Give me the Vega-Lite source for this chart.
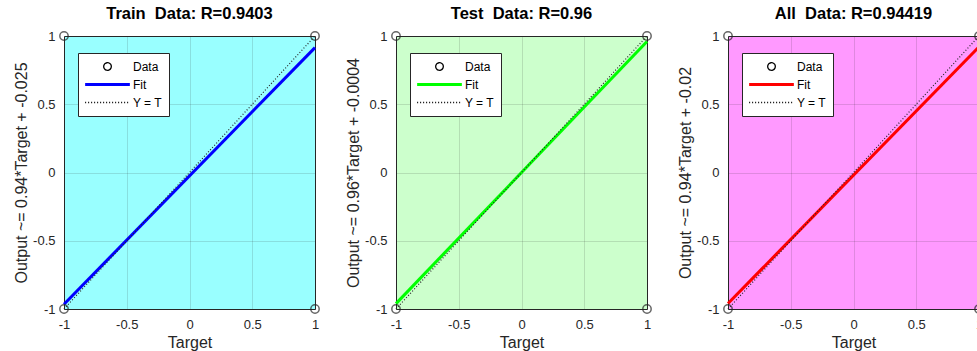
{
  "$schema": "https://vega.github.io/schema/vega-lite/v6.json",
  "padding": {"left": 13, "top": 5, "right": 0, "bottom": 0},
  "background": "white",
  "spacing": 22,
  "datasets": {
    "points": [
      {"panel": "Train", "target": -1, "output": -1},
      {"panel": "Train", "target": -1, "output": 1},
      {"panel": "Train", "target": 1, "output": -1},
      {"panel": "Train", "target": 1, "output": 1},
      {"panel": "Test", "target": -1, "output": -1},
      {"panel": "Test", "target": -1, "output": 1},
      {"panel": "Test", "target": 1, "output": -1},
      {"panel": "Test", "target": 1, "output": 1},
      {"panel": "All", "target": -1, "output": -1},
      {"panel": "All", "target": -1, "output": 1},
      {"panel": "All", "target": 1, "output": -1},
      {"panel": "All", "target": 1, "output": 1}
    ],
    "lines": [
      {"panel": "Train", "series": "Fit", "target": -1, "output": -0.965},
      {"panel": "Train", "series": "Fit", "target": 1, "output": 0.915},
      {"panel": "Train", "series": "Y = T", "target": -1, "output": -1},
      {"panel": "Train", "series": "Y = T", "target": 1, "output": 1},
      {"panel": "Test", "series": "Fit", "target": -1, "output": -0.9604},
      {"panel": "Test", "series": "Fit", "target": 1, "output": 0.9596},
      {"panel": "Test", "series": "Y = T", "target": -1, "output": -1},
      {"panel": "Test", "series": "Y = T", "target": 1, "output": 1},
      {"panel": "All", "series": "Fit", "target": -1, "output": -0.96},
      {"panel": "All", "series": "Fit", "target": 1, "output": 0.92},
      {"panel": "All", "series": "Y = T", "target": -1, "output": -1},
      {"panel": "All", "series": "Y = T", "target": 1, "output": 1}
    ]
  },
  "config": {
    "font": "Liberation Sans",
    "view": {"stroke": "#262626", "strokeWidth": 1},
    "title": {"font": "Liberation Sans", "fontSize": 16.5, "fontWeight": "bold", "color": "#000000", "offset": 6},
    "axis": {
      "domain": false,
      "ticks": false,
      "labelFont": "Liberation Sans",
      "labelFontSize": 13,
      "labelColor": "#262626",
      "labelPadding": 9,
      "labelFlush": false,
      "labelExpr": "datum.value + ''",
      "titleFont": "Liberation Sans",
      "titleFontSize": 16,
      "titleFontWeight": "normal",
      "titleColor": "#262626",
      "titlePadding": 3,
      "grid": true,
      "gridColor": "#262626",
      "gridOpacity": 0.15
    },
    "legend": {
      "orient": "none",
      "legendX": 14,
      "legendY": 17,
      "title": null,
      "padding": 6,
      "rowPadding": 3,
      "clipHeight": 15,
      "labelFont": "Liberation Sans",
      "labelFontSize": 12,
      "labelColor": "#000000",
      "labelOffset": 2,
      "symbolSize": 2000,
      "strokeColor": "#262626",
      "fillColor": "#ffffff",
      "cornerRadius": 0
    }
  },
  "resolve": {
    "scale": {"x": "independent", "y": "independent", "color": "independent"},
    "axis": {"x": "independent", "y": "independent"},
    "legend": {"color": "independent"}
  },
  "hconcat": [
    {
      "title": "Train\u00a0 Data: R=0.9403",
      "width": 251,
      "height": 273,
      "view": {"fill": "#99ffff", "stroke": "#262626"},
      "layer": [
        {
          "data": {"name": "lines"},
          "transform": [{"filter": "datum.panel === 'Train' && datum.series === 'Fit'"}],
          "mark": {"type": "line", "strokeWidth": 3},
          "encoding": {
            "x": {"field": "target", "type": "quantitative", "scale": {"domain": [-1, 1], "nice": false, "zero": false}, "axis": {"values": [-1, -0.5, 0, 0.5, 1]}, "title": "Target"},
            "y": {"field": "output", "type": "quantitative", "scale": {"domain": [-1, 1], "nice": false, "zero": false}, "axis": {"values": [-1, -0.5, 0, 0.5, 1]}, "title": "Output ~= 0.94*Target + -0.025"},
            "color": {
              "field": "series", "type": "nominal",
              "scale": {"domain": ["Data", "Fit", "Y = T"], "range": ["#000000", "#0000ff", "#000000"]},
              "legend": {
                "encode": {
                  "symbols": {
                    "update": {
                      "shape": {"signal": "(datum.value === 'Data' ? 'M-0.17,0A0.17,0.17,0,1,0,0.17,0A0.17,0.17,0,1,0,-0.17,0Z' : 'stroke')"},
                      "strokeWidth": {"signal": "(datum.value === 'Fit' ? 3 : 1.3)"},
                      "strokeDash": {"signal": "(datum.value === 'Y = T' ? [1, 2] : [1, 0])"},
                      "fill": {"value": "transparent"}
                    }
                  }
                }
              }
            }
          }
        },
        {
          "data": {"name": "lines"},
          "transform": [{"filter": "datum.panel === 'Train' && datum.series === 'Y = T'"}],
          "mark": {"type": "line", "strokeWidth": 1.2, "strokeDash": [1, 2], "color": "#262626"},
          "encoding": {
            "x": {"field": "target", "type": "quantitative"},
            "y": {"field": "output", "type": "quantitative"}
          }
        },
        {
          "data": {"name": "points"},
          "transform": [{"filter": "datum.panel === 'Train'"}],
          "mark": {"type": "point", "shape": "circle", "size": 70, "filled": false, "stroke": "#262626", "strokeWidth": 1.5},
          "encoding": {
            "x": {"field": "target", "type": "quantitative"},
            "y": {"field": "output", "type": "quantitative"}
          }
        }
      ]
    },
    {
      "title": "Test\u00a0 Data: R=0.96",
      "width": 251,
      "height": 273,
      "view": {"fill": "#ccffcc", "stroke": "#262626"},
      "layer": [
        {
          "data": {"name": "lines"},
          "transform": [{"filter": "datum.panel === 'Test' && datum.series === 'Fit'"}],
          "mark": {"type": "line", "strokeWidth": 3},
          "encoding": {
            "x": {"field": "target", "type": "quantitative", "scale": {"domain": [-1, 1], "nice": false, "zero": false}, "axis": {"values": [-1, -0.5, 0, 0.5, 1]}, "title": "Target"},
            "y": {"field": "output", "type": "quantitative", "scale": {"domain": [-1, 1], "nice": false, "zero": false}, "axis": {"values": [-1, -0.5, 0, 0.5, 1]}, "title": "Output ~= 0.96*Target + -0.0004"},
            "color": {
              "field": "series", "type": "nominal",
              "scale": {"domain": ["Data", "Fit", "Y = T"], "range": ["#000000", "#00ff00", "#000000"]},
              "legend": {
                "encode": {
                  "symbols": {
                    "update": {
                      "shape": {"signal": "(datum.value === 'Data' ? 'M-0.17,0A0.17,0.17,0,1,0,0.17,0A0.17,0.17,0,1,0,-0.17,0Z' : 'stroke')"},
                      "strokeWidth": {"signal": "(datum.value === 'Fit' ? 3 : 1.3)"},
                      "strokeDash": {"signal": "(datum.value === 'Y = T' ? [1, 2] : [1, 0])"},
                      "fill": {"value": "transparent"}
                    }
                  }
                }
              }
            }
          }
        },
        {
          "data": {"name": "lines"},
          "transform": [{"filter": "datum.panel === 'Test' && datum.series === 'Y = T'"}],
          "mark": {"type": "line", "strokeWidth": 1.2, "strokeDash": [1, 2], "color": "#262626"},
          "encoding": {
            "x": {"field": "target", "type": "quantitative"},
            "y": {"field": "output", "type": "quantitative"}
          }
        },
        {
          "data": {"name": "points"},
          "transform": [{"filter": "datum.panel === 'Test'"}],
          "mark": {"type": "point", "shape": "circle", "size": 70, "filled": false, "stroke": "#262626", "strokeWidth": 1.5},
          "encoding": {
            "x": {"field": "target", "type": "quantitative"},
            "y": {"field": "output", "type": "quantitative"}
          }
        }
      ]
    },
    {
      "title": "All\u00a0 Data: R=0.94419",
      "width": 251,
      "height": 273,
      "view": {"fill": "#ff99ff", "stroke": "#262626"},
      "layer": [
        {
          "data": {"name": "lines"},
          "transform": [{"filter": "datum.panel === 'All' && datum.series === 'Fit'"}],
          "mark": {"type": "line", "strokeWidth": 3},
          "encoding": {
            "x": {"field": "target", "type": "quantitative", "scale": {"domain": [-1, 1], "nice": false, "zero": false}, "axis": {"values": [-1, -0.5, 0, 0.5, 1]}, "title": "Target"},
            "y": {"field": "output", "type": "quantitative", "scale": {"domain": [-1, 1], "nice": false, "zero": false}, "axis": {"values": [-1, -0.5, 0, 0.5, 1]}, "title": "Output ~= 0.94*Target + -0.02"},
            "color": {
              "field": "series", "type": "nominal",
              "scale": {"domain": ["Data", "Fit", "Y = T"], "range": ["#000000", "#ff0000", "#000000"]},
              "legend": {
                "encode": {
                  "symbols": {
                    "update": {
                      "shape": {"signal": "(datum.value === 'Data' ? 'M-0.17,0A0.17,0.17,0,1,0,0.17,0A0.17,0.17,0,1,0,-0.17,0Z' : 'stroke')"},
                      "strokeWidth": {"signal": "(datum.value === 'Fit' ? 3 : 1.3)"},
                      "strokeDash": {"signal": "(datum.value === 'Y = T' ? [1, 2] : [1, 0])"},
                      "fill": {"value": "transparent"}
                    }
                  }
                }
              }
            }
          }
        },
        {
          "data": {"name": "lines"},
          "transform": [{"filter": "datum.panel === 'All' && datum.series === 'Y = T'"}],
          "mark": {"type": "line", "strokeWidth": 1.2, "strokeDash": [1, 2], "color": "#262626"},
          "encoding": {
            "x": {"field": "target", "type": "quantitative"},
            "y": {"field": "output", "type": "quantitative"}
          }
        },
        {
          "data": {"name": "points"},
          "transform": [{"filter": "datum.panel === 'All'"}],
          "mark": {"type": "point", "shape": "circle", "size": 70, "filled": false, "stroke": "#262626", "strokeWidth": 1.5},
          "encoding": {
            "x": {"field": "target", "type": "quantitative"},
            "y": {"field": "output", "type": "quantitative"}
          }
        }
      ]
    }
  ]
}
